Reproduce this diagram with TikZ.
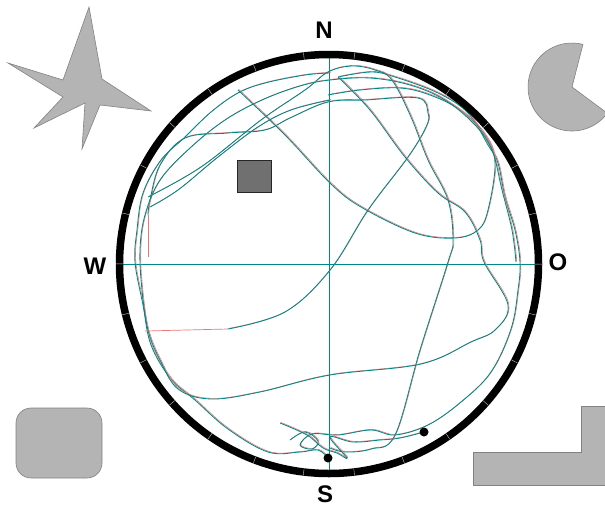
\documentclass[tikz,border=0pt]{standalone}
\usepackage{fontspec}
\setmainfont{Liberation Sans}
\usetikzlibrary{calc}
\definecolor{PoolTeal}{RGB}{0,135,135}
\definecolor{PoolRed}{RGB}{235,120,120}
\definecolor{CueGray}{RGB}{180,180,180}
\definecolor{CueEdge}{RGB}{130,130,130}
\definecolor{GoalGray}{RGB}{112,112,112}
\newcommand{\swimpath}[1]{%
  \draw[PoolRed, line width=0.6pt, shift={(0.8pt,0.6pt)}] plot[smooth, tension=0.6] coordinates {#1};
  \draw[PoolTeal, line width=0.85pt] plot[smooth, tension=0.6] coordinates {#1};}

\begin{document}
\begin{tikzpicture}[x=1pt, y=-1pt, font=\bfseries\fontsize{24}{24}\selectfont]
    \useasboundingbox (0,0) rectangle (605,507);

    % Cues around the pool
    \draw[CueEdge, fill=CueGray, line width=0.6pt] (89,7) -- (102,79) -- (151,111) -- (100,105) -- (82,149)
        -- (85,103) -- (34,128) -- (63,97) -- (8,63) -- (63,80) -- cycle;
    \draw[CueEdge, fill=CueGray, line width=0.6pt] (572,87) -- ++(75.6:44pt) arc[start angle=75.6, end angle=323.4, radius=44pt] -- cycle;
    \draw[CueEdge, fill=CueGray, line width=0.6pt, rounded corners=15pt] (16,408) rectangle (102,478);
    \draw[CueEdge, fill=CueGray, line width=0.6pt] (473,452) -- (581,452) -- (581,406) -- (612,406) -- (612,485) -- (473,485) -- cycle;

    % Pool
    \coordinate (C) at (329,264);
    \coordinate (north) at (329,56);
    \coordinate (south) at (329,476);
    \coordinate (west) at (118,264);
    \coordinate (east) at (540,264);
    \draw[PoolTeal, line width=1pt] (north) -- (south);
    \draw[PoolTeal, line width=1pt] (west) -- (east);

    % Platform
    \draw[black!85, fill=GoalGray, line width=0.8pt] (237,160) rectangle (271,192);

    % Swim track
    \swimpath{(330,73) (305,75) (265,83) (238,93) (211,112) (185,137) (161,160) (143,193) (137,230) (135,262)
        (143,305) (151,345) (171,379) (195,400) (228,429) (268,452) (300,452) (318,450) (328,458)}
    \swimpath{(290,440) (305,432) (318,441) (312,449) (300,445) (312,434) (338,435) (371,430) (395,435)
        (428,425) (461,402) (491,372) (511,329) (518,290) (520,262) (515,230) (505,197) (498,163) (488,145)
        (468,113) (438,93) (395,77) (371,72) (338,77)}
    \swimpath{(228,329) (285,312) (330,270) (368,210) (408,157) (426,127) (428,113) (418,98) (365,100)
        (328,102) (290,118) (265,130) (228,133) (185,138) (160,165) (150,200) (148,215)}
    \swimpath{(238,90) (285,135) (330,183) (361,207) (415,233) (455,238) (478,230) (488,210) (495,163)
        (485,135) (460,110) (430,95) (400,88) (360,90) (328,95)}
    \swimpath{(148,197) (201,167) (261,120) (305,90) (328,72) (352,66) (375,70) (392,80) (411,117) (428,160)
        (448,200) (453,240) (448,262) (420,350) (395,435) (371,449) (345,452) (330,448)}
    \swimpath{(338,77) (370,110) (405,157) (438,193) (465,212) (480,240) (484,262) (508,305) (495,330)
        (471,342) (421,364) (330,375) (260,392) (211,399) (178,389) (160,360) (148,330) (142,290) (140,250)
        (145,215) (160,180) (190,148) (225,120) (262,100) (300,86) (330,80) (370,78) (410,85) (445,100)
        (475,125) (492,150) (502,190) (512,230) (516,262)}
    \swimpath{(150,207) (178,190) (218,157) (258,127) (291,110) (330,100)}
    \swimpath{(280,423) (307,435) (323,448) (337,453) (347,458) (330,437) (353,442) (380,440) (400,438) (424,432)}
    \draw[PoolRed, line width=0.7pt] (145,331) -- (228,329);
    \draw[PoolRed, line width=0.7pt] (148,215) -- (148,257);

    % Pool wall
    \draw[black, line width=7.5pt] (C) circle[radius=209.5pt];
    \foreach \a in {0,...,25}
        \draw[gray!45, line width=0.4pt] (C) ++({96.9+13.846*\a}:206pt) -- ++({96.9+13.846*\a}:7pt);

    % Release points
    \fill[black] (328,458) circle[radius=4.5pt];
    \fill[black] (424,432) circle[radius=4.5pt];

    % Compass labels
    \node (lblN) at (324,30) {N};
    \node (lblS) at (325,494) {S};
    \node (lblW) at (95,266) {W};
    \node (lblO) at (558,262) {O};
\end{tikzpicture}
\end{document}
